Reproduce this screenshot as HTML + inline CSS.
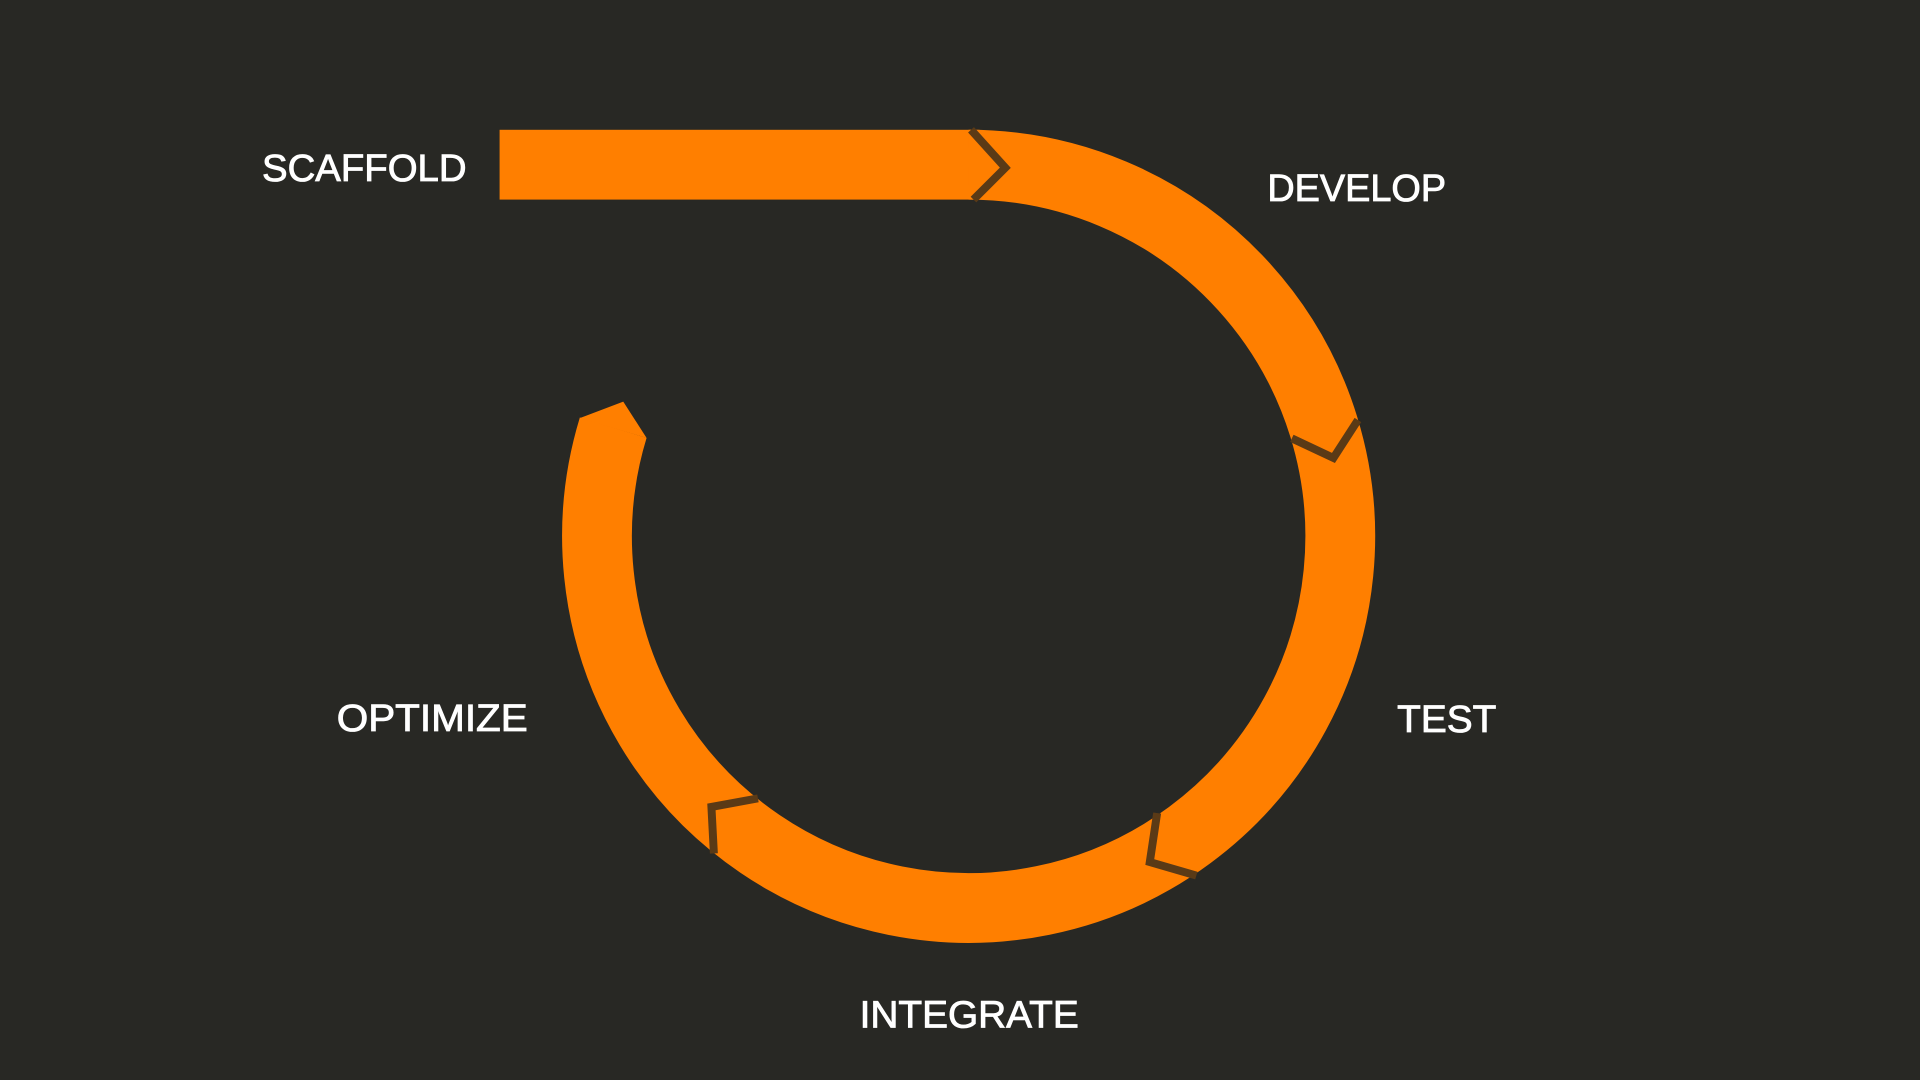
<!DOCTYPE html>
<html><head><meta charset="utf-8"><style>
html,body{margin:0;padding:0;background:#282824;width:1920px;height:1080px;overflow:hidden}
svg{display:block}
text{font-family:"Liberation Sans",sans-serif;fill:#ffffff;font-size:31px;stroke:#ffffff;stroke-width:0.7}
</style></head><body>
<svg width="1920" height="1080" viewBox="0 0 1568 882" xmlns="http://www.w3.org/2000/svg">
<rect width="1568" height="882" fill="#282824"/>
<rect x="408" y="106" width="392" height="57" fill="#ff7f00"/>
<path d="M 791 134.5 A 303.5 303.5 0 1 1 500.8 349.3" fill="none" stroke="#ff7f00" stroke-width="57"/>
<polygon points="473.5,341.5 509,328 528,357.6" fill="#ff7f00"/>
<g fill="none" stroke="#5a3a16" stroke-width="6.5" stroke-linejoin="miter">
<polyline points="793,106 821,137 795,163"/>
<polyline points="1055,358 1089,374 1109,343"/>
<polyline points="945,664 939,704 977,715"/>
<polyline points="619,652 581,659 583,697"/>
</g>
<text x="214" y="148" textLength="167" lengthAdjust="spacingAndGlyphs">SCAFFOLD</text>
<text x="1035" y="164" textLength="146" lengthAdjust="spacingAndGlyphs">DEVELOP</text>
<text x="1141" y="598" textLength="81" lengthAdjust="spacingAndGlyphs">TEST</text>
<text x="275" y="597" textLength="156" lengthAdjust="spacingAndGlyphs">OPTIMIZE</text>
<text x="702" y="839" textLength="179" lengthAdjust="spacingAndGlyphs">INTEGRATE</text>
</svg>
</body></html>
